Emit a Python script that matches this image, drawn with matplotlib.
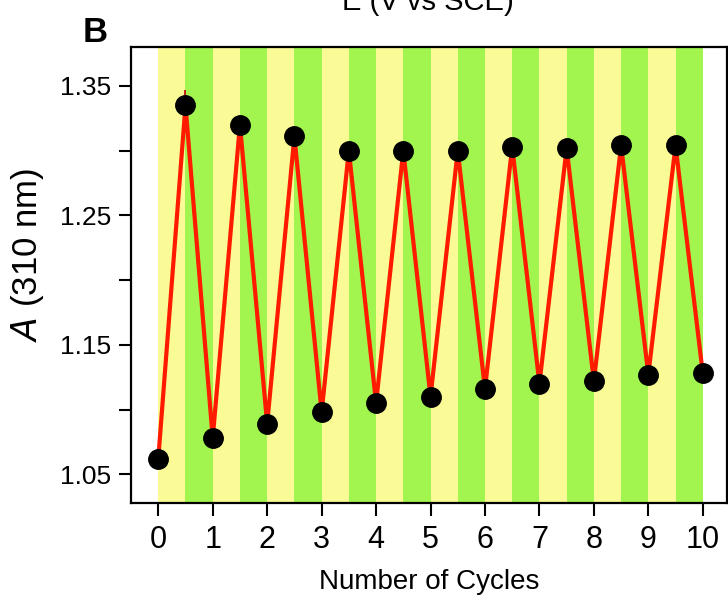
import matplotlib
matplotlib.use("Agg")
import matplotlib.pyplot as plt
import numpy as np

plt.rcParams["font.family"] = ["Liberation Sans", "DejaVu Sans"]

# 数据：半个循环一个点（0, 0.5, 1, ... 10）
cycles = [0, 0.5, 1, 1.5, 2, 2.5, 3, 3.5, 4, 4.5, 5, 5.5, 6, 6.5, 7, 7.5, 8, 8.5, 9, 9.5, 10]
absorbance = [1.062, 1.335, 1.078, 1.320, 1.089, 1.311, 1.098, 1.300, 1.105, 1.300,
              1.110, 1.300, 1.116, 1.303, 1.120, 1.302, 1.122, 1.304, 1.127, 1.304, 1.128]
errors = [0.003, 0.012, 0.008, 0.004, 0.006, 0.004, 0.006, 0.003, 0.005, 0.003,
          0.005, 0.003, 0.005, 0.003, 0.005, 0.003, 0.005, 0.003, 0.004, 0.003, 0.003]
band_colors = ["#FAFA96", "#A2F54F"]
x_ticks = list(range(0, 11))
y_ticks = [1.05, 1.15, 1.25, 1.35]
y_minor = [1.10, 1.20, 1.30]

fig = plt.figure(figsize=(7.28, 6.03), dpi=100)
ax = fig.add_axes([0.180, 0.166, 0.819, 0.756])

# 背景色带，每半个循环交替
for i in range(len(cycles) - 1):
    ax.axvspan(cycles[i], cycles[i + 1], color=band_colors[i % 2], lw=0, zorder=0)

ax.errorbar(cycles, absorbance, yerr=errors, fmt="none", ecolor="#c00000",
            elinewidth=1.2, capsize=0, zorder=2)
ax.plot(cycles, absorbance, color="#ff1a00", lw=3, zorder=3)
ax.plot(cycles, absorbance, "o", color="black", ms=14, zorder=4)

ax.set_xlim(-0.5, 10.45)
ax.set_ylim(1.028, 1.380)
ax.set_xticks(x_ticks)
ax.set_yticks(y_ticks)
ax.set_yticks(y_minor, minor=True)
ax.yaxis.set_major_formatter(matplotlib.ticker.FormatStrFormatter("%.2f"))
ax.tick_params(axis="both", which="both", direction="out", length=9, width=1.5)
ax.tick_params(axis="x", labelsize=22, pad=7)
ax.tick_params(axis="y", labelsize=19, pad=5)
for s in ax.spines.values():
    s.set_linewidth(1.6)

ax.set_xlabel("Number of Cycles", fontsize=20, labelpad=10)
ax.set_ylabel(r"$\mathit{A}$ (310 nm)", fontsize=25)
ax.yaxis.set_label_coords(-0.143, 0.544)

fig.text(0.113, 1 - 42 / 603, "B", fontsize=25, fontweight="bold", va="baseline")
fig.text(0.588, 1 - 10 / 603, "E (V vs SCE)", fontsize=21, ha="center", va="baseline")

fig.savefig("out.png", dpi=100)
